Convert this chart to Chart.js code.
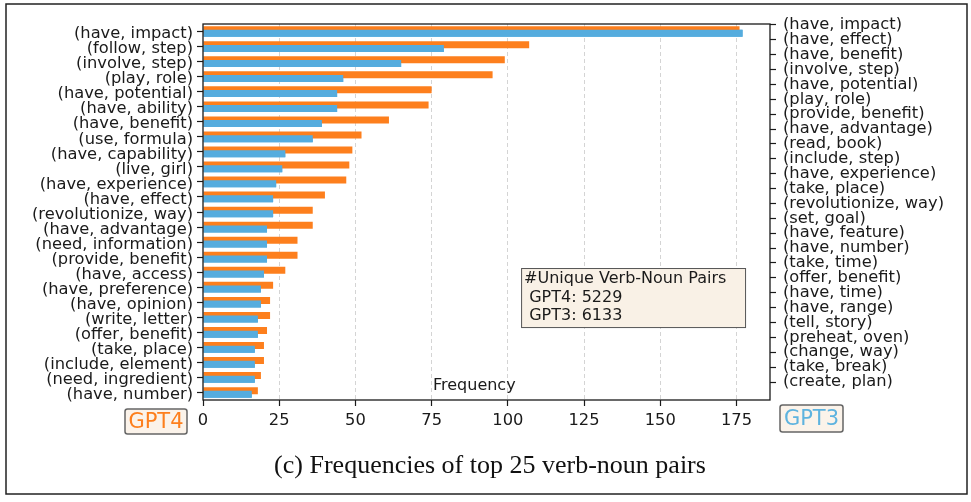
<!DOCTYPE html>
<html>
<head>
<meta charset="utf-8">
<script src="https://cdn.jsdelivr.net/npm/chart.js@4/dist/chart.umd.min.js"></script>
<style>
html,body{margin:0;padding:0;background:#fff;overflow:hidden}
canvas{display:block}
</style>
</head>
<body>
<canvas id="c" width="971" height="502"></canvas>
<script>
// ---- data ----
const gpt4Labels = [
  '(have, impact)', '(follow, step)', '(involve, step)', '(play, role)', '(have, potential)',
  '(have, ability)', '(have, benefit)', '(use, formula)', '(have, capability)', '(live, girl)',
  '(have, experience)', '(have, effect)', '(revolutionize, way)', '(have, advantage)', '(need, information)',
  '(provide, benefit)', '(have, access)', '(have, preference)', '(have, opinion)', '(write, letter)',
  '(offer, benefit)', '(take, place)', '(include, element)', '(need, ingredient)', '(have, number)'
];
const gpt4Values = [176, 107, 99, 95, 75, 74, 61, 52, 49, 48, 47, 40, 36, 36, 31, 31, 27, 23, 22, 22, 21, 20, 20, 19, 18];

const gpt3Labels = [
  '(have, impact)', '(have, effect)', '(have, benefit)', '(involve, step)', '(have, potential)',
  '(play, role)', '(provide, benefit)', '(have, advantage)', '(read, book)', '(include, step)',
  '(have, experience)', '(take, place)', '(revolutionize, way)', '(set, goal)', '(have, feature)',
  '(have, number)', '(take, time)', '(offer, benefit)', '(have, time)', '(have, range)',
  '(tell, story)', '(preheat, oven)', '(change, way)', '(take, break)', '(create, plan)'
];
const gpt3Values = [177, 79, 65, 46, 44, 44, 39, 36, 27, 26, 24, 23, 23, 21, 21, 21, 20, 19, 19, 18, 18, 17, 17, 17, 16];

const xTickStep = 25;
const xMax = 186;
const uniqueTitle = '#Unique Verb-Noun Pairs';
const uniqueLines = [' GPT4: 5229', ' GPT3: 6133'];
const caption = '(c) Frequencies of top 25 verb-noun pairs';

// ---- styles ----
const ORANGE = '#fd7f1d';
const BLUE = '#55acde';
const SANS = '"DejaVu Sans", sans-serif';
const INK = '#1a1a1a';
const TICK_FONT = { family: SANS, size: 16.3 };

// draw the GPT3 bars on top of the GPT4 bars (as in the reference)
const blueOnTop = {
  id: 'blueOnTop',
  afterDatasetsDraw(chart) {
    const meta = chart.getDatasetMeta(1);
    const ca = chart.chartArea;
    const ctx = chart.ctx;
    ctx.save();
    ctx.beginPath();
    ctx.rect(ca.left, ca.top, ca.right - ca.left, ca.bottom - ca.top);
    ctx.clip();
    meta.controller.draw();
    ctx.restore();
  }
};

function roundRect(ctx, x, y, w, h, r) {
  ctx.beginPath();
  ctx.moveTo(x + r, y);
  ctx.lineTo(x + w - r, y);
  ctx.quadraticCurveTo(x + w, y, x + w, y + r);
  ctx.lineTo(x + w, y + h - r);
  ctx.quadraticCurveTo(x + w, y + h, x + w - r, y + h);
  ctx.lineTo(x + r, y + h);
  ctx.quadraticCurveTo(x, y + h, x, y + h - r);
  ctx.lineTo(x, y + r);
  ctx.quadraticCurveTo(x, y, x + r, y);
  ctx.closePath();
}

const decorations = {
  id: 'decorations',
  afterDraw(chart) {
    const ctx = chart.ctx;
    const ca = chart.chartArea;
    const W = ca.right - ca.left, H = ca.bottom - ca.top;
    const ax = f => ca.left + f * W;
    const ay = f => ca.top + f * H;
    ctx.save();

    // plot frame
    ctx.strokeStyle = INK;
    ctx.lineWidth = 1.3;
    ctx.strokeRect(ca.left, ca.top, W, H);

    // x label inside the axes
    ctx.fillStyle = INK;
    ctx.font = '16px ' + SANS;
    ctx.textAlign = 'center';
    ctx.textBaseline = 'middle';
    ctx.fillText('Frequency', chart.scales.x.getPixelForValue(89), ca.bottom - 14);

    // unique pairs box
    const bx0 = ax(0.561), bx1 = ax(0.956), by0 = ay(0.649), by1 = ay(0.806);
    ctx.fillStyle = '#f9f1e6';
    ctx.fillRect(bx0, by0, bx1 - bx0, by1 - by0);
    ctx.strokeStyle = '#555';
    ctx.lineWidth = 1;
    ctx.strokeRect(bx0 + 0.5, by0 + 0.5, bx1 - bx0, by1 - by0);
    ctx.fillStyle = INK;
    ctx.textAlign = 'left';
    ctx.textBaseline = 'middle';
    ctx.fillText(uniqueTitle, bx0 + 3, by0 + 11);
    uniqueLines.forEach((t, i) => ctx.fillText(t, bx0 + 3, by0 + 29.5 + i * 18.5));

    // GPT4 / GPT3 tags
    function tag(text, color, x, y, w, h) {
      roundRect(ctx, x, y, w, h, 2.5);
      ctx.fillStyle = '#fbf3ea';
      ctx.fill();
      ctx.strokeStyle = '#666';
      ctx.lineWidth = 1.5;
      ctx.stroke();
      ctx.fillStyle = color;
      ctx.font = '21px ' + SANS;
      ctx.textAlign = 'center';
      ctx.textBaseline = 'middle';
      ctx.fillText(text, x + w / 2, y + h / 2 + 1);
    }
    tag('GPT4', ORANGE, ca.left - 78, ca.bottom + 9, 62, 25);
    tag('GPT3', '#5eb3df', ca.right + 10, ca.bottom + 5, 63, 27);

    // caption
    ctx.fillStyle = '#111';
    ctx.font = '26px "Liberation Serif", "Times New Roman", serif';
    ctx.textAlign = 'center';
    ctx.textBaseline = 'alphabetic';
    ctx.fillText(caption, 490, 473);

    // outer frame
    ctx.strokeStyle = '#222';
    ctx.lineWidth = 1.5;
    ctx.strokeRect(6, 4, 961, 490);
    ctx.restore();
  }
};

new Chart(document.getElementById('c'), {
  type: 'bar',
  data: {
    labels: gpt4Labels,
    datasets: [
      { label: 'GPT4', data: gpt4Values, backgroundColor: ORANGE, borderWidth: 0 },
      { label: 'GPT3', data: gpt3Values, backgroundColor: BLUE, borderWidth: 0 }
    ]
  },
  options: {
    indexAxis: 'y',
    responsive: false,
    animation: false,
    devicePixelRatio: 1,
    categoryPercentage: 0.49,
    barPercentage: 1.9,
    layout: { padding: { top: 24, left: 0, right: 0, bottom: 0 } },
    plugins: { legend: { display: false }, tooltip: { enabled: false } },
    scales: {
      y: {
        type: 'category',
        position: 'left',
        offset: true,
        grid: { display: true, drawOnChartArea: false, offset: false, tickLength: 6, tickColor: INK, tickWidth: 1.2 },
        border: { display: false },
        ticks: { autoSkip: false, font: TICK_FONT, color: INK, padding: 4, labelOffset: 2.5 },
        afterFit: s => { s.width = 203; }
      },
      y2: {
        type: 'linear',
        position: 'right',
        display: true,
        reverse: true,
        offset: false,
        beginAtZero: false,
        min: -0.067,
        max: 25.21,
        grid: { display: true, drawOnChartArea: false, offset: false, tickLength: 6, tickColor: INK, tickWidth: 1.2 },
        border: { display: false },
        ticks: {
          stepSize: 1,
          includeBounds: false,
          autoSkip: false,
          font: TICK_FONT,
          color: INK,
          padding: 7,
          callback: v => (Number.isInteger(v) && v >= 0 && v < gpt3Labels.length) ? gpt3Labels[v] : null
        },
        afterFit: s => { s.width = 201; }
      },
      x: {
        type: 'linear',
        position: 'bottom',
        min: 0,
        max: xMax,
        grid: {
          display: true,
          color: c => (c.tick && c.tick.value === 0) ? 'rgba(0,0,0,0)' : '#d4d4d4',
          lineWidth: 1,
          tickLength: 6,
          tickColor: INK,
          tickWidth: 1.2
        },
        border: { display: false, dash: [4, 3] },
        ticks: { stepSize: xTickStep, includeBounds: false, font: TICK_FONT, color: INK, padding: 5 },
        afterFit: s => { s.height = 102; }
      }
    }
  },
  plugins: [blueOnTop, decorations]
});
</script>
</body>
</html>
